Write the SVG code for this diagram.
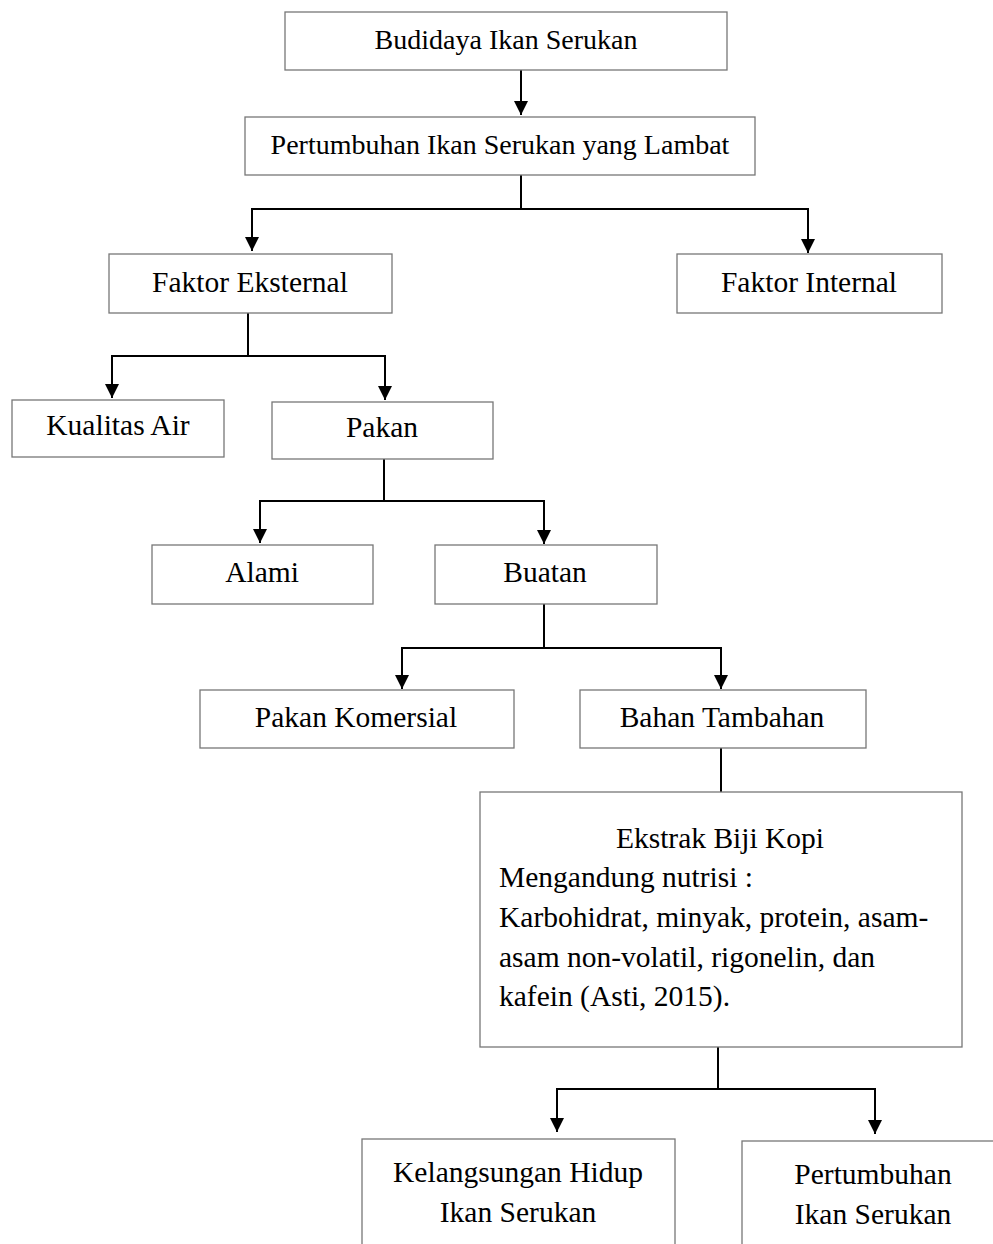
<svg xmlns="http://www.w3.org/2000/svg" width="993" height="1244" viewBox="0 0 993 1244" font-family="'Liberation Serif', Tinos, 'Times New Roman', serif">
<style>
.box{fill:#fff;stroke:#777;stroke-width:1.3}
text{font-family:'Liberation Serif', Tinos, 'Times New Roman', serif;font-size:29.5px;fill:#000}
text.s{font-size:28px}
.m{text-anchor:middle}
.c{fill:none;stroke:#000;stroke-width:2}
.a{fill:none;stroke:#000;stroke-width:2;marker-end:url(#ah)}
</style>
<defs>
<marker id="ah" markerUnits="userSpaceOnUse" markerWidth="14" markerHeight="14" refX="14" refY="7" orient="auto" viewBox="0 0 14 14">
<path d="M0,0 L14,7 L0,14 Z" fill="#000"/>
</marker>
</defs>
<rect width="993" height="1244" fill="#fff"/>
<g id="connectors">
<path class="a" d="M521,70 V115"/>
<path class="c" d="M521,175 V209 M252,209 H809"/>
<path class="a" d="M252,208 V251"/>
<path class="a" d="M808,208 V253"/>
<path class="c" d="M248,313 V356 M112,356 H385"/>
<path class="a" d="M112,355 V398"/>
<path class="a" d="M385,355 V400"/>
<path class="c" d="M384,459 V501 M260,501 H544"/>
<path class="a" d="M260,500 V543"/>
<path class="a" d="M544,500 V544"/>
<path class="c" d="M544,604 V648 M402,648 H721"/>
<path class="a" d="M402,647 V689"/>
<path class="a" d="M721,647 V689"/>
<path class="c" d="M721,748 V792"/>
<path class="c" d="M718,1047 V1089 M557,1089 H875"/>
<path class="a" d="M557,1088 V1132"/>
<path class="a" d="M875,1088 V1134"/>
</g>
<g id="n1"><rect class="box" x="285" y="12" width="442" height="58"/><text class="s m" x="506" y="49">Budidaya Ikan Serukan</text></g>
<g id="n2"><rect class="box" x="245" y="117" width="510" height="58"/><text class="s m" x="500" y="154">Pertumbuhan Ikan Serukan yang Lambat</text></g>
<g id="n3"><rect class="box" x="109" y="254" width="283" height="59"/><text class="m" x="250" y="292">Faktor Eksternal</text></g>
<g id="n4"><rect class="box" x="677" y="254" width="265" height="59"/><text class="m" x="809" y="292">Faktor Internal</text></g>
<g id="n5"><rect class="box" x="12" y="400" width="212" height="57"/><text class="m" x="118" y="435">Kualitas Air</text></g>
<g id="n6"><rect class="box" x="272" y="402" width="221" height="57"/><text class="m" x="382" y="437">Pakan</text></g>
<g id="n7"><rect class="box" x="152" y="545" width="221" height="59"/><text class="m" x="262" y="582">Alami</text></g>
<g id="n8"><rect class="box" x="435" y="545" width="222" height="59"/><text class="m" x="545" y="582">Buatan</text></g>
<g id="n9"><rect class="box" x="200" y="690" width="314" height="58"/><text class="m" x="356" y="727">Pakan Komersial</text></g>
<g id="n10"><rect class="box" x="580" y="690" width="286" height="58"/><text class="m" x="722" y="727">Bahan Tambahan</text></g>
<g id="n11"><rect class="box" x="480" y="792" width="482" height="255"/>
<text class="m" x="720" y="848">Ekstrak Biji Kopi</text>
<text x="499" y="887">Mengandung nutrisi :</text>
<text x="499" y="927">Karbohidrat, minyak, protein, asam-</text>
<text x="499" y="967">asam non-volatil, rigonelin, dan</text>
<text x="499" y="1006">kafein (Asti, 2015).</text>
</g>
<g id="n12"><rect class="box" x="362" y="1139" width="313" height="120"/><text class="m" x="518" y="1182">Kelangsungan Hidup</text><text class="m" x="518" y="1222">Ikan Serukan</text></g>
<g id="n13"><rect class="box" x="742" y="1141" width="262" height="120"/><text class="m" x="873" y="1184">Pertumbuhan</text><text class="m" x="873" y="1224">Ikan Serukan</text></g>
</svg>
